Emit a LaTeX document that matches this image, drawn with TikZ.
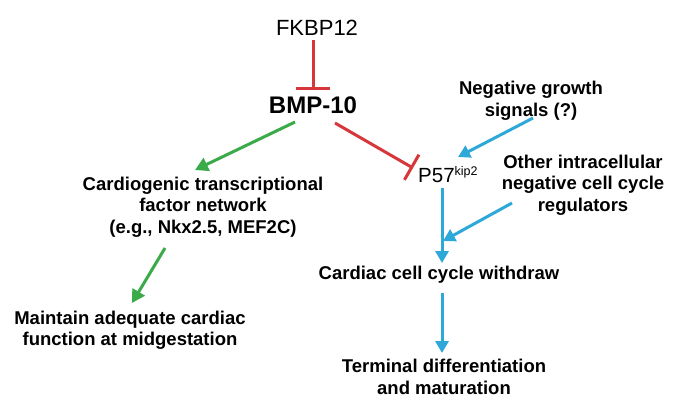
\documentclass[tikz,border=0pt]{standalone}
\usepackage{fontspec}
\setmainfont{Liberation Sans}
\usetikzlibrary{arrows.meta,calc}
\definecolor{myred}{HTML}{D7373A}
\definecolor{mygreen}{HTML}{3BAA48}
\definecolor{myblue}{HTML}{2EA8D8}
\tikzset{
  lbl/.style={inner sep=0pt,align=center,font=\fontsize{18.5}{21.5}\selectfont\bfseries},
  garrow/.style={draw=mygreen,line width=3pt,-{Triangle[length=13pt,width=14pt]}},
  barrow/.style={draw=myblue,line width=3pt,-{Triangle[length=12pt,width=13pt]}},
  inhib/.style={draw=myred,line width=3pt,-{Bar[width=#1]}},
}
\begin{document}
\begin{tikzpicture}[x=1pt,y=-1pt]
\path[use as bounding box,fill=white] (0,0) rectangle (679,408);
\node[inner sep=0pt,font=\fontsize{22}{24}\selectfont] (fk) at (317,28) {FKBP12};
\node[inner sep=0pt,font=\fontsize{24}{26}\selectfont\bfseries] (bmp) at (313,105) {BMP-10};
\node[inner sep=0pt,anchor=base west,font=\fontsize{20.5}{22}\selectfont] (p57) at (418,182) {P57\raisebox{7pt}{\fontsize{12.5}{13}\selectfont kip2}};
\node[lbl] (neg) at (531,101) {Negative growth\\signals (?)};
\node[lbl] (other) at (583,185) {Other intracellular\\negative cell cycle\\regulators};
\node[lbl] (cardio) at (203,207) {Cardiogenic transcriptional\\factor network\\(e.g., Nkx2.5, MEF2C)};
\node[lbl] (maintain) at (130,330) {Maintain adequate cardiac\\function at midgestation};
\node[lbl] (ccw) at (439,275) {Cardiac cell cycle withdraw};
\node[lbl] (term) at (444,377) {Terminal differentiation\\and maturation};
\coordinate (join) at (443,241);

\draw[inhib=34pt] ($(fk.center)+(-4,12)$) -- ($(bmp.center)+(0,-15)$);
\draw[inhib=29pt] ($(bmp.center)+(22,18)$) -- ($(p57.base west)+(-5,-14)$);
\draw[garrow] ($(bmp.center)+(-18,17)$) -- ($(cardio.center)+(-8,-37)$);
\draw[garrow] ($(cardio.center)+(-38,41)$) -- ($(maintain.center)+(2,-27)$);
\draw[barrow] ($(neg.center)+(2,17)$) -- ($(p57.base west)+(40,-25)$);
\draw[barrow] ($(p57.base west)+(24,6)$) -- ($(ccw.center)+(3,-12)$);
\draw[barrow] ($(other.center)+(-71,18)$) -- (join);
\draw[barrow] ($(ccw.center)+(3,18)$) -- ($(term.center)+(-2,-24)$);
\end{tikzpicture}
\end{document}
